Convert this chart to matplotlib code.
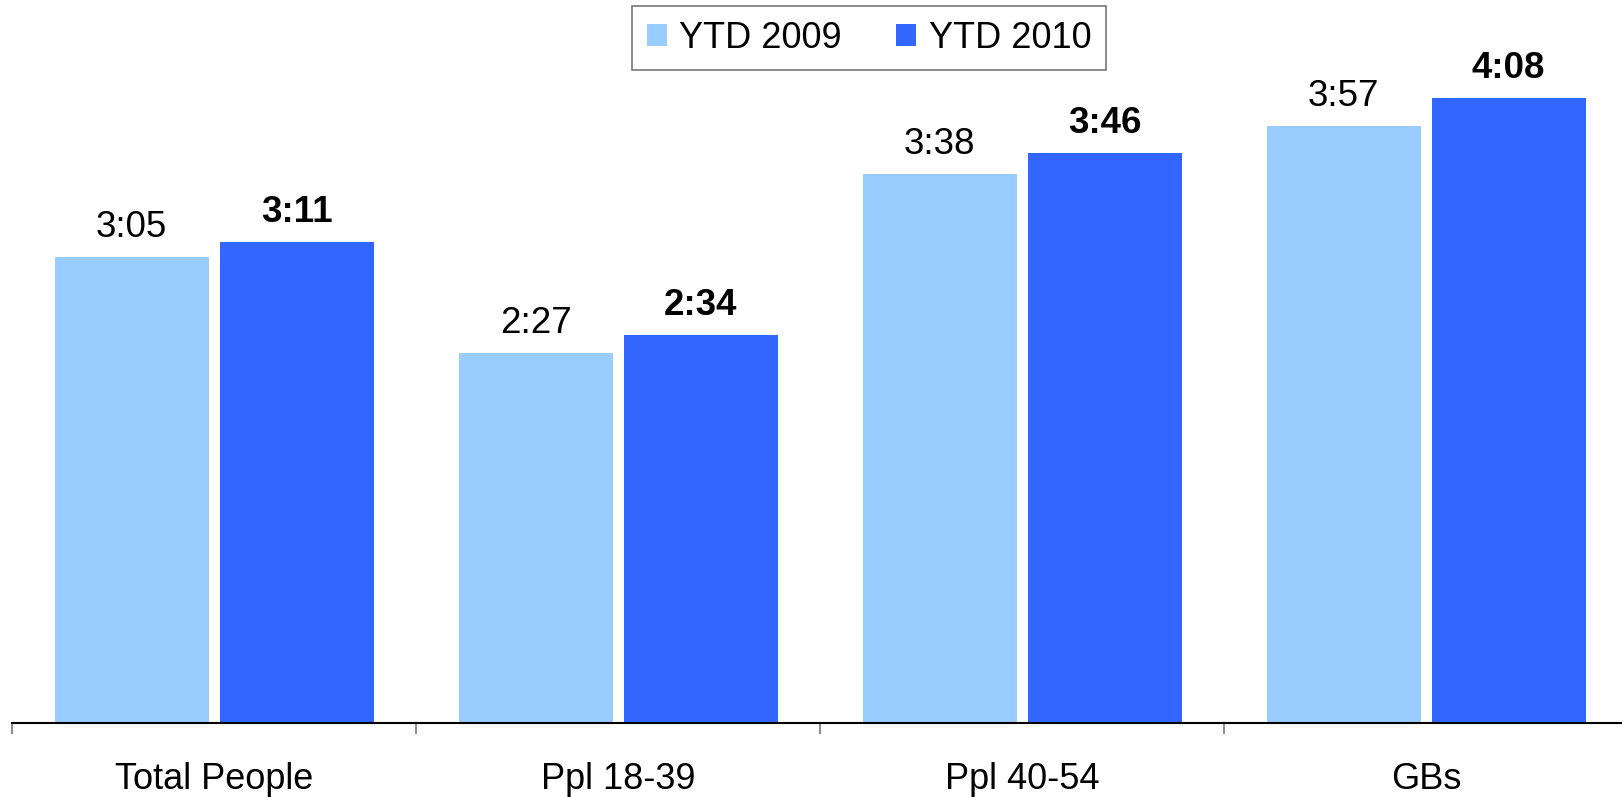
import numpy as np
import matplotlib
matplotlib.use("Agg")
import matplotlib.pyplot as plt
from matplotlib.ticker import FixedLocator

plt.rcParams['font.family'] = ['Liberation Sans', 'DejaVu Sans']

categories = ["Total People", "Ppl 18-39", "Ppl 40-54", "GBs"]
series_names = ["YTD 2009", "YTD 2010"]
# viewing time in minutes (h:mm)
ytd_2009 = [185, 147, 218, 237]
ytd_2010 = [191, 154, 226, 248]


def fmt(m):
    return f"{m // 60}:{m % 60:02d}"


fig = plt.figure(figsize=(16.22, 7.97), dpi=100)
ax = fig.add_axes([12 / 1622, 74 / 797, 1616 / 1622, 723 / 797])

x = np.arange(len(categories))
w = 154 / 404
gap = 11 / 404
off = (w + gap) / 2

b1 = ax.bar(x - off, ytd_2009, width=w, color="#99CCFF", label=series_names[0])
b2 = ax.bar(x + off, ytd_2010, width=w, color="#3366FF", label=series_names[1])

for rect, v in zip(b1, ytd_2009):
    ax.annotate(fmt(v), (rect.get_x() + rect.get_width() / 2, rect.get_height()),
                xytext=(0, 14.4), textcoords="offset points",
                ha="center", va="baseline", fontsize=26.5)
for rect, v in zip(b2, ytd_2010):
    ax.annotate(fmt(v), (rect.get_x() + rect.get_width() / 2, rect.get_height()),
                xytext=(0, 14.4), textcoords="offset points",
                ha="center", va="baseline", fontsize=26.5, fontweight="bold")

ax.set_xlim(-0.5, len(categories) - 0.5)
ax.set_ylim(0, 723 / 2.52)

for s in ["top", "right", "left"]:
    ax.spines[s].set_visible(False)
ax.spines["bottom"].set_linewidth(1.5)
ax.spines["bottom"].set_color("black")
ax.set_yticks([])

ax.set_xticks(x)
ax.set_xticklabels(categories, fontsize=26)
ax.tick_params(axis="x", which="major", length=0, pad=28)
ax.xaxis.set_minor_locator(FixedLocator(np.arange(-0.5, len(categories), 1.0)))
ax.tick_params(axis="x", which="minor", length=8, width=1.2, color="#777777")

leg = ax.legend(loc="center", bbox_to_anchor=(869 / 1622, 1 - 38 / 797),
                bbox_transform=fig.transFigure, ncol=2, fontsize=26,
                frameon=True, fancybox=False, handlelength=0.55, handleheight=0.55,
                handletextpad=0.35, columnspacing=1.5, borderpad=0.4,
                borderaxespad=0.0)
leg.get_frame().set_edgecolor("#555555")
leg.get_frame().set_linewidth(1.2)

fig.savefig("out.png", dpi=100)
